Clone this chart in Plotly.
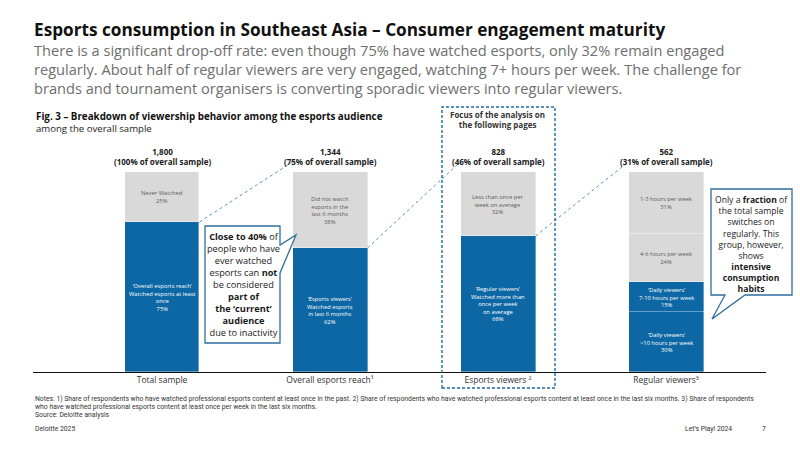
import plotly.graph_objects as go

# ---------------- data ----------------
categories = ["Total sample", "Overall esports reach¹", "Esports viewers ²", "Regular viewers³"]
counts = ["1,800", "1,344", "828", "562"]
shares = ["100% of overall sample", "75% of overall sample", "46% of overall sample", "31% of overall sample"]

# stacked segments, bottom to top
blue_low = [75, 62, 68, 30]
blue_low_text = ["‘Overall esports reach’<br>Watched esports at least<br>once<br>75%",
                 "‘Esports viewers’<br>Watched esports<br>in last 6 months<br>62%",
                 "‘Regular viewers’<br>Watched more than<br>once per week<br>on average<br>68%",
                 "‘Daily viewers’<br>>10 hours per week<br>30%"]
blue_high = [0, 0, 0, 15]
blue_high_text = ["", "", "", "‘Daily viewers’<br>7-10 hours per week<br>15%"]
gray_low = [25, 38, 32, 24]
gray_low_text = ["Never Watched<br>25%", "Did not watch<br>esports in the<br>last 6 months<br>38%",
                 "Less than once per<br>week on average<br>32%", "4-6 hours per week<br>24%"]
gray_high = [0, 0, 0, 31]
gray_high_text = ["", "", "", "1-3 hours per week<br>31%"]

BLUE = "#0D67A4"
GRAY = "#D9D9D9"
W, H = 800, 450
SMALL = "Liberation Sans Narrow, Roboto"


def X(px):
    return px / W


def Y(py):
    return 1 - py / H


fig = go.Figure()
xs = list(range(len(categories)))
series = [(blue_low, BLUE), (blue_high, BLUE), (gray_low, GRAY), (gray_high, GRAY)]
for vals, col in series:
    fig.add_trace(go.Bar(x=xs, y=vals, marker=dict(color=col, line=dict(color="rgba(255,255,255,0.6)", width=0.6)),
                         width=0.446, hoverinfo="skip", showlegend=False))
fig.update_layout(barmode="stack")

ann = []
# segment labels
base = [0] * len(xs)
for (vals, col), texts in zip(series, [blue_low_text, blue_high_text, gray_low_text, gray_high_text]):
    for i in xs:
        if vals[i]:
            ann.append(dict(x=i, y=base[i] + vals[i] / 2, xref="x", yref="y", text=texts[i], showarrow=False,
                            xanchor="center", yanchor="middle",
                            font=dict(size=5.8, color="white" if col == BLUE else "#595959",
                                      family="Open Sans"), align="center"))
        base[i] += vals[i]

# count labels on top
for i in xs:
    ann.append(dict(x=i, y=100, xref="x", yref="y", xanchor="center", yanchor="bottom", yshift=3, showarrow=False,
                    text=f"<b>{counts[i]}</b><br><b>({shares[i]})</b>", align="center",
                    font=dict(size=8, color="#1a1a1a", family="Open Sans")))

# connector lines
shapes = []
blue_tops = [a + b for a, b in zip(blue_low, blue_high)]
for i in range(3):
    shapes.append(dict(type="line", xref="x", yref="y", x0=i + 0.223, y0=blue_tops[i], x1=i + 1 - 0.225, y1=105,
                       line=dict(color="#5B8FC7", width=1, dash="dot"), layer="above"))

# dashed focus box
shapes.append(dict(type="rect", xref="paper", yref="paper", x0=X(442), x1=X(555), y0=Y(388), y1=Y(107),
                   line=dict(color="#1F6CA3", width=1.4, dash="3px,2px"), fillcolor="rgba(0,0,0,0)",
                   layer="above"))


def P(px, py, **kw):
    d = dict(x=X(px), y=Y(py), xref="paper", yref="paper", showarrow=False, xanchor="center", yanchor="middle")
    d.update(kw)
    return d


ann.append(P(497, 119, align="center", text="<b>Focus of the analysis on<br>the following pages</b>",
             font=dict(size=8, color="#333333", family="Open Sans")))


def path(pts):
    return "M " + " L ".join(f"{X(a):.5f},{Y(b):.5f}" for a, b in pts) + " Z"


shapes.append(dict(type="path", xref="paper", yref="paper", layer="above",
                   path=path([(205, 226), (280, 226), (280, 245), (296, 235), (280, 273), (280, 343), (205, 343)]),
                   line=dict(color="#2E6E9E", width=1.3), fillcolor="white"))
shapes.append(dict(type="path", xref="paper", yref="paper", layer="above",
                   path=path([(711, 189), (792, 189), (792, 295), (745, 295), (712, 319), (725, 295), (711, 295)]),
                   line=dict(color="#2E6E9E", width=1.3), fillcolor="white"))

ann.append(P(243, 284, align="center",
             text="<b>Close to 40%</b> of<br>people who have<br>ever watched<br>esports can <b>not</b><br>be considered"
                  "<br><b>part of</b><br><b>the ‘current’</b><br><b>audience</b><br>due to inactivity",
             font=dict(size=9.2, color="#1a1a1a", family="Open Sans")))
ann.append(P(751, 244, align="center",
             text="Only a <b>fraction</b> of<br>the total sample<br>switches on<br>regularly. This<br>group, however,"
                  "<br>shows<br><b>intensive</b><br><b>consumption</b><br><b>habits</b>",
             font=dict(size=8.6, color="#1a1a1a", family="Open Sans")))

# titles
ann.append(P(32, 30, xanchor="left",
             text="<b>Esports consumption in Southeast Asia – Consumer engagement maturity</b>",
             font=dict(size=17.2, color="#111111", family="Open Sans")))
sub = ["There is a significant drop-off rate: even though 75% have watched esports, only 32% remain engaged",
       "regularly. About half of regular viewers are very engaged, watching 7+ hours per week. The challenge for",
       "brands and tournament organisers is converting sporadic viewers into regular viewers."]
for k, line in enumerate(sub):
    ann.append(P(32, 50 + 19 * k, xanchor="left", text=line,
                 font=dict(size=14.6, color="#6E6E6E", family="Open Sans")))
ann.append(P(34, 116, xanchor="left",
             text="<b>Fig. 3 – Breakdown of viewership behavior among the esports audience</b>",
             font=dict(size=9.8, color="#111111", family="Open Sans")))
ann.append(P(34, 128, xanchor="left", text="among the overall sample",
             font=dict(size=9.6, color="#222222", family="Open Sans")))

notes = ["Notes: 1) Share of respondents who have watched professional esports content at least once in the past. 2) Share of respondents who have watched professional esports content at least once in the last six months. 3) Share of respondents",
         "who have watched professional esports content at least once per week in the last six months.",
         "Source: Deloitte analysis"]
for k, line in enumerate(notes):
    ann.append(P(33, 399 + 8 * k, xanchor="left", text=line, font=dict(size=6.8, color="#333333", family=SMALL)))
ann.append(P(33, 429, xanchor="left", text="Deloitte 2025", font=dict(size=6.8, color="#333333", family=SMALL)))
ann.append(P(734, 429, xanchor="right", text="Let’s Play! 2024", font=dict(size=6.8, color="#333333", family=SMALL)))
ann.append(P(764, 429, text="7", font=dict(size=6.8, color="#333333", family=SMALL)))

fig.update_layout(
    width=W, height=H, margin=dict(l=0, r=0, t=0, b=0),
    paper_bgcolor="white", plot_bgcolor="white",
    xaxis=dict(domain=[X(33), X(766)], range=[-0.768, 3.595], tickvals=xs, ticktext=categories,
               showline=True, linecolor="#111111", linewidth=1.2, showgrid=False, zeroline=False, ticks="",
               tickfont=dict(size=8.5, color="#333333", family="Open Sans"), fixedrange=True),
    yaxis=dict(domain=[Y(372), Y(112)], range=[0, 130], visible=False, fixedrange=True),
    annotations=ann, shapes=shapes, bargap=0,
    font=dict(family="Open Sans"),
)
fig.write_html("out.html")
